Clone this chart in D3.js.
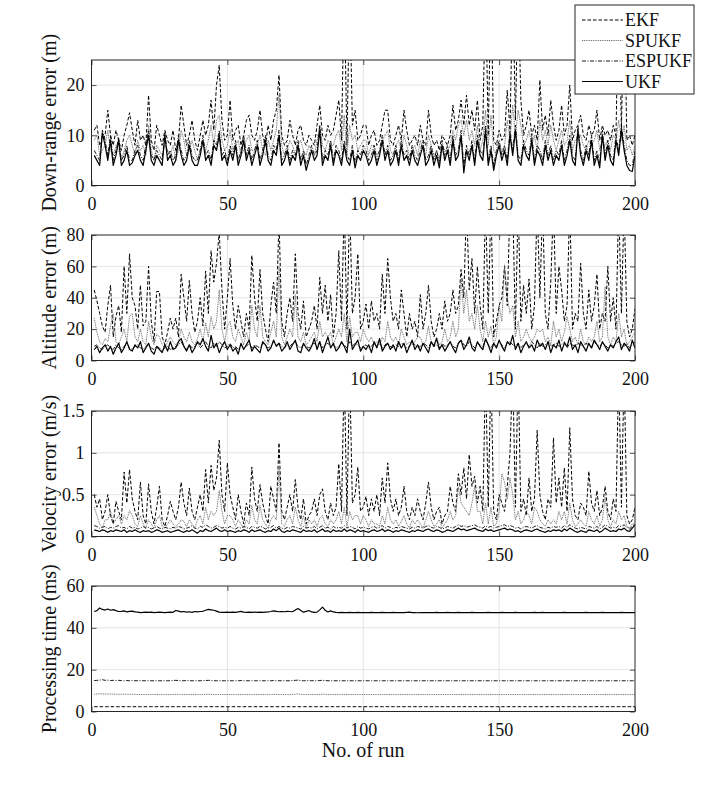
<!DOCTYPE html>
<html>
<head>
<meta charset="utf-8">
<script src="https://cdn.jsdelivr.net/npm/d3@7"></script>
<style>
  body { margin: 0; background: #fff; }
  svg { display: block; font-family: "Liberation Serif", "Times New Roman", serif; }
  svg text { font-family: "Liberation Serif", "Times New Roman", serif; }
</style>
</head>
<body>
<div class="chart"></div>
<script>
// series names (legend order = drawing order)
var series_names = ["EKF", "SPUKF", "ESPUKF", "UKF"];
var x_ticks = [0, 50, 100, 150, 200];

// down-range error (m)
var dr_ekf = [11,12,8,9,10,15,10,8,11,9,
  7,10,12,14.5,11,8,13,9,10,8,
  18,9,7,12,10,8,11,9,8,11,
  7,9,16,12,8,10,13,9,7,10,
  13,10,12,17,11,20,24,13,9,10,
  17,9,11,12,8,10,13,14,10,9,
  11,15,10,8,12,9,13,15,22,10,
  8,9,13,10,8,11,12,9,8,10,
  9,8,12,16,10,9,12,10,11,14,
  17,9,40,8,40,12,15,9,10,12,
  12,8,10,11,8,9,12,15,15,9,
  8,10,12,9,15,11,8,9,10,8,
  12,9,8,15,10,8,9,7,10,9,
  8,10,16,11,13,17,12,18,12,15,
  11,17,9,12,40,10,40,9,8,11,
  9,10,19,11,40,13,40,17,10,12,
  15,10,12,9,21,11,14,10,17,12,
  9,11,16,10,12,20,9,11,12,14,
  10,9,12,10,11,15,9,12,10,11,
  9,12,10,40,11,40,9,10,8,10];
var dr_sp = [9,10,6,7,8,11,7,6,8,7,
  5,7,9,10,8,6,9,7,8,6,
  12,7,5,8,7,6,8,7,6,8,
  5,7,11,9,6,7,9,7,5,7,
  9,7,9,12,8,13,14,9,7,8,
  11,7,8,9,6,7,9,10,7,7,
  8,10,7,6,9,7,9,11,18,8,
  6,7,9,8,6,8,9,7,6,8,
  7,6,9,12,8,7,9,8,8,10,
  11,7,14,6,12,9,10,7,8,9,
  9,6,8,8,6,7,9,10,11,7,
  6,8,9,7,10,8,6,7,8,6,
  9,7,6,10,8,6,7,5,8,7,
  7,8,11,9,12,13,10,13,9,11,
  8,12,7,9,15,8,14,7,6,8,
  7,8,13,9,16,10,15,12,8,9,
  11,8,10,7,13,9,11,8,12,9,
  7,9,11,8,9,13,7,9,9,10,
  8,7,9,8,9,11,7,9,8,9,
  7,10,9,13,9,12,7,8,6,8];
var dr_esp = [7,6,5,11,9,6,10,5,7,9.5,
  5,6,8,5,5,7,8,6,5,8,
  11,6,5,7,6,5,10.5,6,7,5,
  6,10,7,5,6,9,6,5,5,7,
  10,6,7,5,9,8,11,6,7,5,
  8,6,9,5,7,10,6,8,5,7,
  9,5,7,10,6,5,8,7,11,5,
  6,8,5,7,6,9,5,7,4,6,
  8,6,7,12,5,7,6,9,5,8,
  7,5,9,6,5,8,4.5,7,6,8,
  7,5,6,8,5,7,10,6,8,5,
  6,8,5,9,6,7,5,8,6,5,
  7,9,5,6,8,5,7,4.5,9,6,
  8,5,10,6,7,11,4,8,6,9,
  5,10,7,6,12,5,8,4,7,9,
  6,8,5,11,7,12,6,5,9,7,
  6,10,5,8,7,5,9,6,8,5,
  7,6,9,5,7,10,6,5,12,7,
  5,8,6,10,5,7,4.5,11,6,9,
  6,5,10,7,12,8,5,4,4,7];
var dr_ukf = [6,5,4,10.5,8,5,9,4,6,9,
  4,5,7,4,4.5,6,7,5,4,7,
  10,5,4,6,5,4,10,5,6,4,
  5,9,6,4,5,8,5,4,4,6,
  9,5,6,4,8,7,10,5,6,4,
  7,5,8,4,6,9,5,7,4,6,
  8,4,6,9,5,4,7,6,10,4,
  5,7,4,6,5,8,4,6,3,5,
  7,5,6,11,4,6,5,8,4,7,
  6,4,8,5,4,7,3.5,6,5,7,
  6,4,5,7,4,6,9,5,7,4,
  5,7,4,8,5,6,4,7,5,4,
  6,8,4,5,7,4,6,3.5,8,5,
  7,4,9,5,6,10,2.5,7,5,8,
  4,9,6,5,11,4,7,3,6,8,
  5,7,4,10,6,11,5,4,8,6,
  5,9,4,7,6,4,8,5,7,4,
  6,5,8,4,6,9,5,4,11,6,
  4,7,5,9,4,6,3.5,10,5,8,
  5,4,9,6,11,7,4,3,2.8,6];

// altitude error (m)
var al_ekf = [45,38,30,22,18,35,48,15,28,35,
  18,60,30,68,40,35,20,48,22,25,
  60,25,12,44,44,15,10,18,27,20,
  27,15,55,40,25,51,30,18,25,40,
  22,57,30,70,50,62,82,45,20,40,
  65,35,20,35,25,15,30,20,67,40,
  25,58,30,20,12,35,50,30,90,25,
  15,30,40,25,68,30,20,38,15,20,
  25,35,20,53,30,48,25,42,15,30,
  70,25,100,20,100,30,40,68,20,25,
  36,20,38,25,30,20,55,30,65,40,
  25,30,20,45,30,15,30,20,25,15,
  42,20,30,48,25,15,20,30,20,38,
  25,30,45,30,35,58,40,100,45,65,
  30,60,35,20,100,30,100,15,25,35,
  40,60,35,100,100,20,100,25,48,30,
  52,20,35,100,40,100,30,20,50,100,
  30,60,45,25,35,100,20,30,25,62,
  30,20,45,25,35,55,20,30,25,60,
  25,40,20,100,30,100,25,15,20,33];
var al_sp = [27,18,12,10,14,12,22,30,12,10,
  15,20,12,28,30,15,12,20,12,10,
  25,15,10,17,15,10,8,12,15,12,
  10,12,20,15,12,18,12,10,14,20,
  12,24,15,28,20,25,45,20,12,22,
  25,15,12,20,15,10,18,12,35,20,
  15,35,15,12,10,18,25,15,60,15,
  10,15,20,15,42,15,12,18,10,12,
  15,18,12,25,15,18,15,18,10,15,
  20,15,30,12,28,15,18,18,12,20,
  15,12,15,10,12,10,15,12,25,15,
  12,15,10,20,15,10,12,10,12,15,
  15,10,12,22,12,10,15,10,12,20,
  12,15,25,15,20,52,30,45,25,30,
  20,35,20,12,25,15,22,10,15,35,
  25,61,40,30,35,15,25,12,15,20,
  15,12,15,20,18,20,12,15,10,25,
  15,20,12,18,28,20,12,15,10,20,
  12,10,15,12,15,25,12,15,47,15,
  10,15,12,30,15,20,10,12,15,18];
var al_esp = [9,10,8,7,9,10,8,7,10,8,
  7,9,11,8,7,9,10,8,7,9,
  10,8,7,9,8,6,8,9,7,8,
  9,10,12,9,7,10,8,9,11,8,
  10,12,9,8,11,9,12,10,8,9,
  11,8,9,7,10,8,9,11,8,10,
  9,8,11,10,8,9,12,10,11,9,
  8,10,9,11,12,9,8,10,9,8,
  10,11,9,12,8,10,11,9,10,8,
  9,11,10,8,12,9,11,10,8,9,
  10,8,9,11,9,12,8,10,11,9,
  8,10,9,11,10,8,9,12,10,8,
  9,11,10,8,12,9,10,8,11,9,
  10,12,9,8,11,13,10,9,12,10,
  8,11,10,9,13,10,8,11,9,12,
  10,8,11,12,10,9,11,8,10,11,
  9,12,10,8,11,9,10,12,9,10,
  11,9,10,12,8,11,10,9,11,10,
  9,11,10,8,12,10,9,11,10,8,
  10,9,11,12,10,9,11,8,10,12];
var al_ukf = [7,9,5,8,10,6,9,4,8,11,
  5,8,12,7,6,10,8,12,5,8,
  11,6,4,9,7,5,10,6,12,7,
  8,12,14,9,6,10,5,8,12,10,
  14,9,6,16,8,11,5,9,12,7,
  10,6,8,4,11,7,10,13,6,9,
  7,5,12,10,6,8,13,9,11,6,
  8,12,7,10,13,6,5,11,8,6,
  9,14,7,12,5,10,15,8,11,6,
  8,12,9,5,20,7,10,13,6,9,
  7,10,5,12,8,14,6,9,11,7,
  10,6,12,8,11,5,9,13,7,10,
  6,11,8,5,12,9,14,7,10,6,
  9,12,8,5,11,13,7,10,15,8,
  6,12,9,7,14,10,5,11,8,13,
  9,6,12,10,16,7,11,5,9,12,
  8,10,6,13,9,11,7,12,5,10,
  8,13,6,11,9,15,7,10,5,12,
  9,6,11,8,13,10,7,12,9,6,
  10,8,12,15,7,11,9,6,13,8];

// velocity error (m/s)
var ve_ekf = [0.5,0.35,0.45,0.2,0.3,0.5,0.25,0.15,0.42,0.3,
  0.2,0.77,0.4,0.8,0.45,0.3,0.2,0.65,0.25,0.15,
  0.63,0.3,0.15,0.35,0.6,0.2,0.12,0.25,0.42,0.3,
  0.2,0.35,0.65,0.4,0.25,0.58,0.3,0.2,0.35,0.5,
  0.3,0.8,0.4,0.85,0.55,0.7,1.15,0.5,0.3,0.88,
  0.5,0.35,0.2,0.5,0.3,0.15,0.4,0.25,0.83,0.45,
  0.3,0.62,0.4,0.25,0.15,0.6,0.45,0.3,1.12,0.3,
  0.2,0.35,0.5,0.3,0.68,0.35,0.2,0.45,0.15,0.25,
  0.3,0.45,0.25,0.5,0.57,0.3,0.2,0.4,0.25,0.35,
  0.87,0.3,2,0.25,2,0.4,0.5,0.83,0.3,0.35,
  0.48,0.25,0.45,0.3,0.5,0.25,0.7,0.4,0.88,0.45,
  0.3,0.45,0.25,0.35,0.6,0.3,0.2,0.35,0.25,0.45,
  0.3,0.2,0.4,0.65,0.35,0.2,0.3,0.35,0.15,0.25,
  0.3,0.6,0.4,0.3,0.75,0.5,0.82,0.45,0.98,0.6,
  0.72,0.4,0.6,0.3,2,0.35,2,0.3,0.2,0.5,
  0.4,0.3,0.6,1.0,2,0.35,2,0.3,0.45,0.25,
  0.7,0.3,0.45,1.27,0.5,0.3,0.2,0.45,0.35,1.18,
  0.4,0.7,0.35,0.82,0.3,1.3,0.45,0.25,0.2,0.4,
  0.35,0.25,0.78,0.4,0.3,0.55,0.25,0.35,0.6,0.3,
  0.2,0.45,0.3,2,0.35,2,0.25,0.15,0.2,0.35];
var ve_sp = [0.35,0.25,0.15,0.1,0.2,0.2,0.3,0.15,0.2,0.25,
  0.15,0.25,0.2,0.31,0.25,0.15,0.12,0.25,0.15,0.1,
  0.2,0.15,0.1,0.2,0.25,0.12,0.1,0.15,0.2,0.15,
  0.12,0.15,0.2,0.18,0.12,0.2,0.15,0.1,0.2,0.25,
  0.15,0.35,0.2,0.3,0.25,0.3,0.55,0.3,0.15,0.25,
  0.25,0.2,0.12,0.2,0.15,0.1,0.2,0.15,0.37,0.2,
  0.15,0.37,0.2,0.15,0.1,0.2,0.25,0.2,0.81,0.15,
  0.12,0.2,0.25,0.15,0.35,0.2,0.12,0.25,0.1,0.2,
  0.15,0.2,0.12,0.22,0.25,0.15,0.12,0.2,0.15,0.2,
  0.3,0.15,0.35,0.12,0.3,0.2,0.25,0.25,0.15,0.25,
  0.2,0.12,0.2,0.15,0.15,0.12,0.25,0.15,0.35,0.2,
  0.15,0.2,0.12,0.18,0.25,0.15,0.1,0.2,0.15,0.2,
  0.15,0.1,0.2,0.3,0.2,0.12,0.15,0.2,0.1,0.15,
  0.2,0.3,0.2,0.25,0.59,0.4,0.35,0.3,0.25,0.4,
  0.6,0.3,0.3,0.15,0.4,0.15,0.35,0.12,0.15,0.3,
  0.75,0.65,0.45,0.7,0.5,0.2,0.3,0.15,0.2,0.3,
  0.25,0.15,0.35,0.3,0.2,0.15,0.12,0.2,0.15,0.2,
  0.15,0.3,0.2,0.3,0.15,0.4,0.2,0.12,0.15,0.2,
  0.15,0.12,0.3,0.2,0.15,0.25,0.12,0.2,0.47,0.2,
  0.12,0.2,0.15,0.3,0.2,0.25,0.12,0.1,0.15,0.15];
var ve_esp = [0.13,0.12,0.1,0.11,0.12,0.09,0.11,0.1,0.12,0.13,
  0.1,0.11,0.09,0.12,0.1,0.11,0.09,0.1,0.12,0.1,
  0.11,0.09,0.1,0.12,0.1,0.09,0.11,0.1,0.09,0.11,
  0.1,0.12,0.11,0.09,0.1,0.11,0.13,0.1,0.09,0.12,
  0.11,0.14,0.12,0.1,0.11,0.13,0.12,0.1,0.11,0.1,
  0.12,0.1,0.09,0.11,0.1,0.12,0.11,0.09,0.12,0.11,
  0.1,0.12,0.11,0.09,0.1,0.11,0.13,0.1,0.12,0.1,
  0.09,0.11,0.1,0.12,0.11,0.1,0.09,0.12,0.1,0.11,
  0.1,0.12,0.09,0.11,0.13,0.1,0.11,0.09,0.12,0.1,
  0.11,0.1,0.13,0.1,0.12,0.11,0.09,0.12,0.1,0.11,
  0.1,0.09,0.11,0.12,0.1,0.11,0.13,0.1,0.12,0.11,
  0.09,0.11,0.1,0.12,0.11,0.1,0.09,0.11,0.1,0.12,
  0.11,0.1,0.12,0.13,0.11,0.1,0.12,0.11,0.09,0.1,
  0.12,0.11,0.1,0.12,0.14,0.12,0.13,0.11,0.12,0.13,
  0.14,0.12,0.11,0.1,0.13,0.11,0.12,0.1,0.11,0.12,
  0.13,0.14,0.12,0.13,0.12,0.1,0.11,0.09,0.11,0.12,
  0.11,0.1,0.12,0.13,0.11,0.1,0.09,0.11,0.1,0.12,
  0.11,0.12,0.1,0.13,0.11,0.14,0.12,0.1,0.09,0.11,
  0.1,0.09,0.12,0.11,0.1,0.12,0.09,0.11,0.14,0.12,
  0.1,0.11,0.1,0.13,0.12,0.14,0.11,0.09,0.12,0.15];
var ve_ukf = [0.08,0.07,0.06,0.08,0.07,0.05,0.07,0.06,0.08,0.07,
  0.06,0.08,0.05,0.07,0.06,0.08,0.06,0.05,0.07,0.06,
  0.07,0.05,0.06,0.08,0.07,0.05,0.06,0.07,0.05,0.06,
  0.07,0.08,0.06,0.05,0.07,0.06,0.08,0.06,0.04,0.07,
  0.06,0.09,0.07,0.06,0.08,0.1,0.07,0.06,0.08,0.06,
  0.07,0.06,0.05,0.07,0.06,0.08,0.07,0.05,0.08,0.06,
  0.07,0.08,0.06,0.05,0.07,0.06,0.09,0.07,0.1,0.06,
  0.05,0.07,0.06,0.08,0.07,0.06,0.05,0.08,0.06,0.07,
  0.06,0.08,0.05,0.07,0.09,0.06,0.07,0.05,0.08,0.06,
  0.07,0.06,0.09,0.06,0.08,0.07,0.05,0.08,0.06,0.07,
  0.06,0.05,0.07,0.08,0.06,0.07,0.09,0.06,0.08,0.07,
  0.05,0.07,0.06,0.08,0.07,0.06,0.05,0.07,0.06,0.08,
  0.07,0.06,0.08,0.09,0.07,0.06,0.08,0.07,0.05,0.06,
  0.08,0.07,0.06,0.08,0.1,0.08,0.09,0.07,0.08,0.09,
  0.1,0.08,0.07,0.06,0.09,0.07,0.08,0.06,0.07,0.08,
  0.09,0.1,0.08,0.09,0.08,0.06,0.07,0.05,0.07,0.08,
  0.07,0.06,0.08,0.09,0.07,0.06,0.05,0.07,0.06,0.08,
  0.07,0.08,0.06,0.09,0.07,0.1,0.08,0.06,0.05,0.07,
  0.06,0.05,0.08,0.07,0.06,0.08,0.05,0.07,0.1,0.08,
  0.06,0.07,0.06,0.09,0.08,0.1,0.07,0.06,0.1,0.14];

// processing time (ms)
var pt_ekf = [2.3,2.3,2.3,2.3,2.3,2.3,2.3,2.3,2.3,2.3,
  2.3,2.3,2.3,2.3,2.3,2.3,2.3,2.3,2.3,2.3,
  2.3,2.3,2.3,2.3,2.3,2.3,2.3,2.3,2.3,2.3,
  2.3,2.3,2.3,2.3,2.3,2.3,2.3,2.3,2.3,2.3,
  2.3,2.3,2.3,2.3,2.3,2.3,2.3,2.3,2.3,2.3,
  2.3,2.3,2.3,2.3,2.3,2.3,2.3,2.3,2.3,2.3,
  2.3,2.3,2.3,2.3,2.3,2.3,2.3,2.3,2.3,2.3,
  2.3,2.3,2.3,2.3,2.3,2.3,2.3,2.3,2.3,2.3,
  2.3,2.3,2.3,2.3,2.3,2.3,2.3,2.3,2.3,2.3,
  2.3,2.3,2.3,2.3,2.3,2.3,2.3,2.3,2.3,2.3,
  2.3,2.3,2.3,2.3,2.3,2.3,2.3,2.3,2.3,2.3,
  2.3,2.3,2.3,2.3,2.3,2.3,2.3,2.3,2.3,2.3,
  2.3,2.3,2.3,2.3,2.3,2.3,2.3,2.3,2.3,2.3,
  2.3,2.3,2.3,2.3,2.3,2.3,2.3,2.3,2.3,2.3,
  2.3,2.3,2.3,2.3,2.3,2.3,2.3,2.3,2.3,2.3,
  2.3,2.3,2.3,2.3,2.3,2.3,2.3,2.3,2.3,2.3,
  2.3,2.3,2.3,2.3,2.3,2.3,2.3,2.3,2.3,2.3,
  2.3,2.3,2.3,2.3,2.3,2.3,2.3,2.3,2.3,2.3,
  2.3,2.3,2.3,2.3,2.3,2.3,2.3,2.3,2.3,2.3,
  2.3,2.3,2.3,2.3,2.3,2.3,2.3,2.3,2.3,2.3];
var pt_sp = [8.2,8.4,8.5,8.4,8.4,8.3,8.4,8.3,8.3,8.2,
  8.2,8.3,8.2,8.2,8.3,8.2,8.1,8.1,8.2,8.1,
  8.1,8.1,8.2,8.1,8.1,8.1,8.1,8.1,8.1,8.1,
  8.2,8.2,8.1,8.1,8.1,8.1,8.1,8.1,8.1,8.1,
  8.1,8.2,8.2,8.2,8.1,8.1,8.1,8.1,8.1,8.1,
  8.1,8.1,8.1,8.1,8.1,8.1,8.1,8.1,8.1,8.1,
  8.1,8.1,8.1,8.1,8.1,8.1,8.2,8.1,8.1,8.1,
  8.1,8.1,8.1,8.1,8.3,8.4,8.2,8.1,8.1,8.1,
  8.1,8.1,8.1,8.2,8.3,8.2,8.1,8.1,8.1,8.1,
  8.1,8.1,8.1,8.1,8.1,8.1,8.1,8.1,8.1,8.1,
  8.1,8.1,8.1,8.1,8.1,8.1,8.1,8.1,8.1,8.1,
  8.1,8.1,8.1,8.1,8.1,8.1,8.1,8.1,8.1,8.1,
  8.1,8.1,8.1,8.1,8.1,8.1,8.1,8.1,8.1,8.1,
  8.1,8.1,8.1,8.1,8.1,8.1,8.1,8.1,8.1,8.1,
  8.1,8.1,8.1,8.1,8.1,8.1,8.1,8.1,8.1,8.1,
  8.1,8.1,8.1,8.1,8.1,8.1,8.1,8.1,8.1,8.1,
  8.1,8.1,8.1,8.1,8.1,8.1,8.1,8.1,8.1,8.1,
  8.1,8.1,8.1,8.1,8.1,8.1,8.1,8.1,8.1,8.1,
  8.1,8.1,8.1,8.1,8.1,8.1,8.1,8.1,8.1,8.1,
  8.1,8.1,8.1,8.1,8.1,8.1,8.1,8.1,8.1,8.1];
var pt_esp = [14.8,14.9,15.0,15.2,14.9,15.0,14.8,14.9,14.8,14.9,
  14.8,14.7,14.8,14.7,14.8,14.7,14.7,14.8,14.7,14.7,
  14.7,14.7,14.7,14.7,14.7,14.7,14.7,14.7,14.7,14.8,
  14.9,14.8,14.7,14.7,14.8,14.7,14.7,14.7,14.7,14.7,
  14.8,14.8,14.9,14.8,14.7,14.7,14.7,14.7,14.7,14.7,
  14.7,14.7,14.7,14.7,14.8,14.7,14.7,14.7,14.7,14.7,
  14.7,14.7,14.7,14.7,14.7,14.7,14.8,14.7,14.7,14.7,
  14.7,14.7,14.7,14.8,14.9,15.0,14.8,14.7,14.7,14.8,
  14.7,14.7,14.7,14.8,14.9,14.8,14.7,14.7,14.7,14.7,
  14.7,14.7,14.7,14.7,14.7,14.7,14.7,14.7,14.7,14.7,
  14.7,14.7,14.7,14.7,14.7,14.7,14.7,14.7,14.7,14.7,
  14.7,14.7,14.7,14.7,14.7,14.7,14.7,14.7,14.7,14.7,
  14.7,14.7,14.7,14.7,14.7,14.7,14.7,14.7,14.7,14.7,
  14.7,14.7,14.7,14.7,14.7,14.7,14.7,14.7,14.7,14.7,
  14.7,14.7,14.7,14.7,14.7,14.7,14.7,14.7,14.7,14.7,
  14.7,14.7,14.7,14.7,14.7,14.7,14.7,14.7,14.7,14.7,
  14.7,14.7,14.7,14.7,14.7,14.7,14.7,14.7,14.7,14.7,
  14.7,14.7,14.7,14.7,14.7,14.7,14.7,14.7,14.7,14.7,
  14.7,14.7,14.7,14.7,14.7,14.7,14.7,14.7,14.7,14.7,
  14.7,14.7,14.7,14.7,14.7,14.7,14.7,14.7,14.7,14.7];
var pt_ukf = [47.8,48.2,49.5,48.8,48.5,49.0,48.4,48.7,48.2,47.8,
  47.9,48.1,47.6,47.9,48.0,47.6,47.5,47.3,47.4,47.5,
  47.4,47.5,47.3,47.4,47.5,47.4,47.3,47.4,47.5,47.4,
  48.3,48.0,47.6,47.8,47.5,47.7,47.4,47.8,47.6,47.8,
  47.9,48.4,48.8,48.6,48.4,48.0,47.5,47.4,47.4,47.5,
  47.4,47.5,47.4,47.6,47.9,47.5,47.4,47.5,47.4,47.5,
  47.4,47.5,47.4,47.5,47.6,47.8,48.1,47.9,47.7,47.8,
  47.7,47.9,47.8,47.7,48.5,49.2,48.3,47.5,47.9,48.3,
  47.6,47.4,47.5,48.6,49.9,48.4,47.6,48.1,47.6,47.4,
  47.3,47.4,47.3,47.3,47.4,47.3,47.3,47.4,47.3,47.3,
  47.3,47.3,47.4,47.3,47.3,47.3,47.4,47.3,47.3,47.3,
  47.4,47.3,47.3,47.3,47.3,47.4,47.5,47.3,47.3,47.2,
  47.3,47.3,47.3,47.3,47.3,47.3,47.4,47.3,47.3,47.3,
  47.4,47.3,47.3,47.3,47.4,47.3,47.3,47.3,47.3,47.4,
  47.3,47.3,47.3,47.3,47.3,47.4,47.3,47.3,47.3,47.3,
  47.4,47.3,47.3,47.3,47.3,47.4,47.3,47.3,47.3,47.3,
  47.3,47.3,47.4,47.3,47.3,47.4,47.3,47.3,47.3,47.3,
  47.3,47.3,47.3,47.4,47.3,47.3,47.3,47.3,47.3,47.3,
  47.3,47.4,47.3,47.3,47.3,47.3,47.3,47.4,47.3,47.3,
  47.3,47.3,47.3,47.3,47.4,47.3,47.3,47.3,47.3,47.3];

var panels = [
  {label: "Down-range error (m)", ymax: 25, ticks: [0, 10, 20], series: [dr_ekf, dr_sp, dr_esp, dr_ukf]},
  {label: "Altitude error (m)", ymax: 80, ticks: [0, 20, 40, 60, 80], series: [al_ekf, al_sp, al_esp, al_ukf]},
  {label: "Velocity error (m/s)", ymax: 1.5, ticks: [0, 0.5, 1, 1.5], series: [ve_ekf, ve_sp, ve_esp, ve_ukf]},
  {label: "Processing time (ms)", ymax: 60, ticks: [0, 20, 40, 60], series: [pt_ekf, pt_sp, pt_esp, pt_ukf]}
];

var line_styles = [
  {stroke: "#000", width: 1.0, dash: "3.5,2"},
  {stroke: "#606060", width: 0.9, dash: "1,0.8"},
  {stroke: "#000", width: 0.9, dash: "4,1.5,1,1.5"},
  {stroke: "#000", width: 1.2, dash: null}
];

var axis_color = "#262626";
var tick_size = 18;   // tick labels
var label_size = 20;  // axis titles
var legend_size = 18;
var serif = "'Liberation Serif', 'Times New Roman', serif";
var tick_format = d3.format("~g");

var style_axis = function (sel) {
  sel.attr("font-family", serif).attr("font-size", tick_size);
  sel.select(".domain").remove();
  sel.selectAll(".tick line").attr("stroke", axis_color).attr("stroke-width", 0.8);
  sel.selectAll(".tick text")
    .attr("fill", "#111")
    .style("font-family", serif)
    .style("font-size", tick_size + "px");
};

var draw_panel = function (svg, p, i, props) {
  var { left, top, width, height } = props;
  var g = svg.append("g")
    .attr("transform", "translate(" + left + "," + top + ")");

  var x_scale = d3.scaleLinear().domain([0, 200]).range([0, width]);
  var y_scale = d3.scaleLinear().domain([0, p.ymax]).range([height, 0]);

  // grid
  g.append("g").selectAll("line")
    .data([50, 100, 150])
    .enter().append("line")
      .attr("x1", d => x_scale(d)).attr("x2", d => x_scale(d))
      .attr("y1", 0).attr("y2", height)
      .attr("stroke", "#dedede").attr("stroke-width", 0.8);
  g.append("g").selectAll("line")
    .data(p.ticks.filter(t => t > 0 && t < p.ymax))
    .enter().append("line")
      .attr("x1", 0).attr("x2", width)
      .attr("y1", d => y_scale(d)).attr("y2", d => y_scale(d))
      .attr("stroke", "#dedede").attr("stroke-width", 0.8);

  // lines, clipped to the plot box
  g.append("clipPath").attr("id", "clip" + i)
    .append("rect").attr("width", width).attr("height", height);
  var lines = g.append("g").attr("clip-path", "url(#clip" + i + ")");
  var line = d3.line()
    .x((d, k) => x_scale(k + 1))
    .y(d => y_scale(d));
  p.series.forEach(function (values, s) {
    var st = line_styles[s];
    lines.append("path")
      .datum(values)
      .attr("d", line)
      .attr("fill", "none")
      .attr("stroke", st.stroke)
      .attr("stroke-width", st.width)
      .attr("stroke-dasharray", st.dash)
      .attr("stroke-linejoin", "round");
  });

  // axes (ticks point inward, MATLAB style)
  g.append("g").attr("transform", "translate(0," + height + ")")
    .call(d3.axisBottom(x_scale).tickValues(x_ticks).tickSizeInner(-5).tickSizeOuter(0).tickPadding(12).tickFormat(tick_format))
    .call(style_axis);
  g.append("g")
    .call(d3.axisTop(x_scale).tickValues(x_ticks).tickSizeInner(-5).tickSizeOuter(0).tickFormat(""))
    .call(style_axis);
  g.append("g")
    .call(d3.axisLeft(y_scale).tickValues(p.ticks).tickSizeInner(-5).tickSizeOuter(0).tickPadding(7).tickFormat(tick_format))
    .call(style_axis);
  g.append("g").attr("transform", "translate(" + width + ",0)")
    .call(d3.axisRight(y_scale).tickValues(p.ticks).tickSizeInner(-5).tickSizeOuter(0).tickFormat(""))
    .call(style_axis);

  g.append("rect")
    .attr("width", width).attr("height", height)
    .attr("fill", "none").attr("stroke", axis_color).attr("stroke-width", 1);

  g.append("text")
    .attr("transform", "translate(" + (56 - left) + "," + (height / 2) + ") rotate(-90)")
    .attr("text-anchor", "middle")
    .style("font-family", serif)
    .style("font-size", label_size + "px")
    .attr("fill", "#111")
    .text(p.label);

  if (i === panels.length - 1) {
    g.append("text")
      .attr("x", width / 2).attr("y", height + 45)
      .attr("text-anchor", "middle")
      .style("font-family", serif)
      .style("font-size", label_size + "px")
      .attr("fill", "#111")
      .text("No. of run");
  }
};

var svg = d3.select(".chart").append("svg")
  .attr("width", 702).attr("height", 800);

var tops = [60, 235, 411, 586];
panels.forEach(function (p, i) {
  draw_panel(svg, p, i, {left: 91.5, top: tops[i], width: 543.5, height: 125.5});
});

// legend
var legend = svg.append("g").attr("transform", "translate(575,5)");
legend.append("rect")
  .attr("width", 119).attr("height", 89)
  .attr("fill", "#fff").attr("stroke", axis_color).attr("stroke-width", 1);
var rows = legend.selectAll(".row")
  .data(series_names)
  .enter().append("g")
    .attr("class", "row")
    .attr("transform", (d, k) => "translate(0," + (15 + k * 20.5) + ")");
rows.append("line")
  .attr("x1", 7).attr("x2", 48)
  .attr("stroke", (d, k) => line_styles[k].stroke)
  .attr("stroke-width", (d, k) => line_styles[k].width)
  .attr("stroke-dasharray", (d, k) => line_styles[k].dash);
rows.append("text")
  .attr("x", 50).attr("dy", "0.35em")
  .style("font-family", serif)
  .style("font-size", legend_size + "px")
  .attr("fill", "#111")
  .text(d => d);
</script>
</body>
</html>
